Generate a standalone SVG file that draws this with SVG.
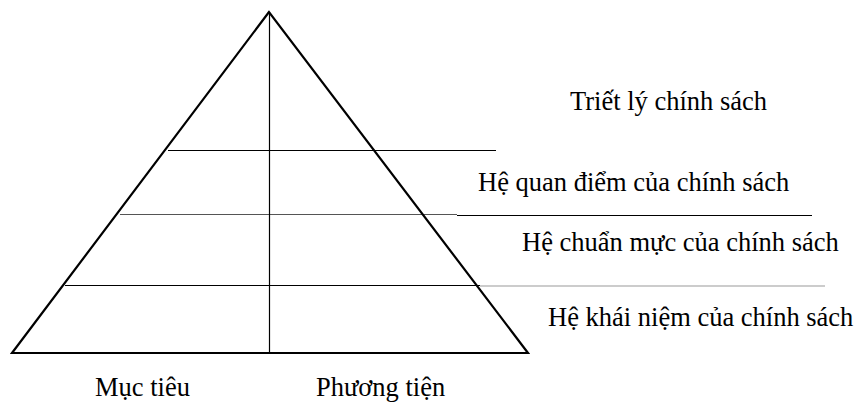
<svg xmlns="http://www.w3.org/2000/svg" width="858" height="403" viewBox="0 0 858 403">
<style>
.lbl{font-family:"Liberation Serif","Times New Roman",serif;font-size:26.5px;fill:#000}
.ln{stroke:#000;stroke-width:1.2;fill:none}
.gr{stroke:#999;stroke-width:1.2;fill:none}
.dg{stroke:#555;stroke-width:1.2;fill:none}
</style>
<rect width="858" height="403" fill="#fff"/>
<g id="connectors">
<line class="ln" x1="168" y1="150.5" x2="496" y2="150.5"/>
<line class="dg" x1="120" y1="214.5" x2="457" y2="214.5"/>
<line class="ln" x1="457" y1="215.5" x2="812" y2="215.5"/>
<line class="ln" x1="65" y1="285.5" x2="480" y2="285.5"/>
<line class="gr" x1="480" y1="286" x2="825" y2="286"/>
<line class="ln" x1="269.5" y1="12" x2="269.5" y2="353"/>
</g>
<g id="pyramid">
<polygon points="269,12 12,353 528,353" fill="none" stroke="#000" stroke-width="2.2" stroke-linejoin="miter"/>
</g>
<g id="level1"><text class="lbl" x="570" y="110">Triết lý chính sách</text></g>
<g id="level2"><text class="lbl" x="478" y="191">Hệ quan điểm của chính sách</text></g>
<g id="level3"><text class="lbl" x="522" y="251">Hệ chuẩn mực của chính sách</text></g>
<g id="level4"><text class="lbl" x="548" y="326">Hệ khái niệm của chính sách</text></g>
<g id="goal"><text class="lbl" x="95" y="396">Mục tiêu</text></g>
<g id="means"><text class="lbl" x="316" y="396">Phương tiện</text></g>
</svg>
